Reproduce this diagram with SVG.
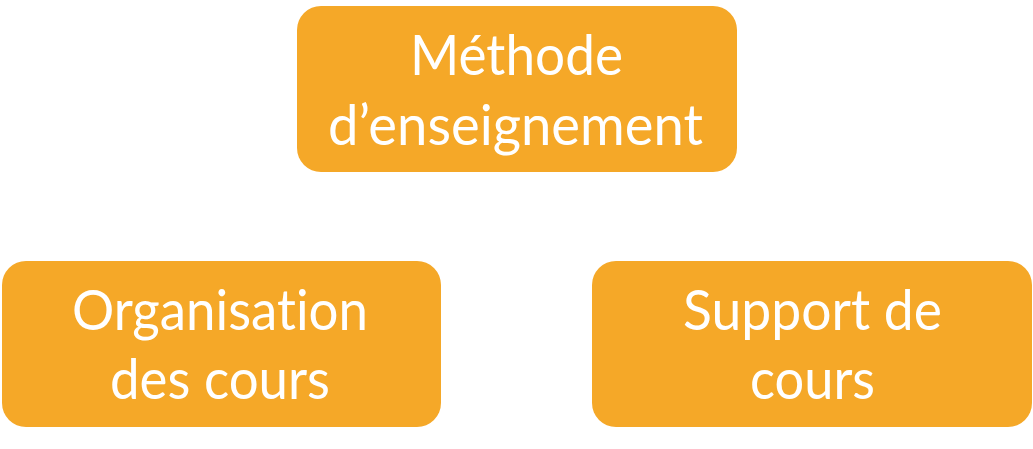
<svg xmlns="http://www.w3.org/2000/svg" width="1033" height="449" viewBox="0 0 1033 449">
<style>
.box{fill:#F5A828;}
.lbl{font-family:Lato,"Open Sans","Liberation Sans",sans-serif;font-size:57px;fill:#FFFFFF;text-anchor:middle;font-variant-ligatures:none;font-feature-settings:"liga" 0,"dlig" 0;}
</style>
<rect width="1033" height="449" fill="#FFFFFF"/>
<g id="connectors"></g>
<g id="node-methode">
<rect class="box" x="297" y="6" width="440" height="166" rx="24"/>
<text class="lbl" x="516.5" y="75" textLength="213" lengthAdjust="spacingAndGlyphs">Méthode</text>
<text class="lbl" x="515.5" y="145" textLength="375" lengthAdjust="spacingAndGlyphs">d’enseignement</text>
</g>
<g id="node-organisation">
<rect class="box" x="2" y="261" width="439" height="166" rx="24"/>
<text class="lbl" x="220" y="330" textLength="296" lengthAdjust="spacingAndGlyphs">Organisation</text>
<text class="lbl" x="220" y="399" textLength="220" lengthAdjust="spacingAndGlyphs">des cours</text>
</g>
<g id="node-support">
<rect class="box" x="592" y="261" width="440" height="166" rx="24"/>
<text class="lbl" x="812.5" y="330" textLength="259" lengthAdjust="spacingAndGlyphs">Support de</text>
<text class="lbl" x="812.5" y="399" textLength="125" lengthAdjust="spacingAndGlyphs">cours</text>
</g>
</svg>
